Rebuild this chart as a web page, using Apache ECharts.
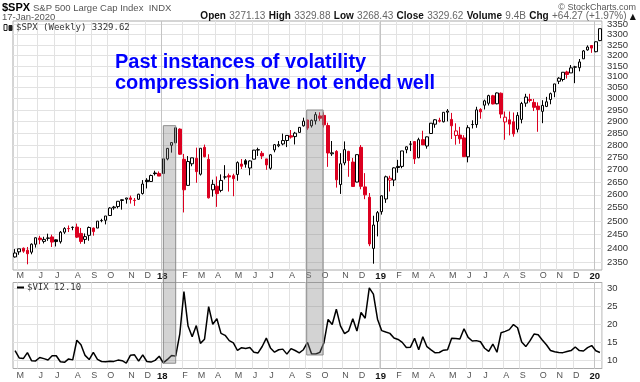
<!DOCTYPE html>
<html><head><meta charset="utf-8">
<script src="https://cdn.jsdelivr.net/npm/echarts@6/dist/echarts.min.js"></script>
<style>html,body{margin:0;padding:0;background:#fff}#c{width:640px;height:382px}</style>
</head><body><div id="c"></div>
<script>
// ---------- DATA ----------
const weeks = ['2017-04-28','2017-05-05','2017-05-12','2017-05-19','2017-05-26','2017-06-02','2017-06-09','2017-06-16','2017-06-23','2017-06-30',
'2017-07-07','2017-07-14','2017-07-21','2017-07-28','2017-08-04','2017-08-11','2017-08-18','2017-08-25','2017-09-01','2017-09-08',
'2017-09-15','2017-09-22','2017-09-29','2017-10-06','2017-10-13','2017-10-20','2017-10-27','2017-11-03','2017-11-10','2017-11-17',
'2017-11-24','2017-12-01','2017-12-08','2017-12-15','2017-12-22','2017-12-29','2018-01-05','2018-01-12','2018-01-19','2018-01-26',
'2018-02-02','2018-02-09','2018-02-16','2018-02-23','2018-03-02','2018-03-09','2018-03-16','2018-03-23','2018-03-29','2018-04-06',
'2018-04-13','2018-04-20','2018-04-27','2018-05-04','2018-05-11','2018-05-18','2018-05-25','2018-06-01','2018-06-08','2018-06-15',
'2018-06-22','2018-06-29','2018-07-06','2018-07-13','2018-07-20','2018-07-27','2018-08-03','2018-08-10','2018-08-17','2018-08-24',
'2018-08-31','2018-09-07','2018-09-14','2018-09-21','2018-09-28','2018-10-05','2018-10-12','2018-10-19','2018-10-26','2018-11-02',
'2018-11-09','2018-11-16','2018-11-23','2018-11-30','2018-12-07','2018-12-14','2018-12-21','2018-12-28','2019-01-04','2019-01-11',
'2019-01-18','2019-01-25','2019-02-01','2019-02-08','2019-02-15','2019-02-22','2019-03-01','2019-03-08','2019-03-15','2019-03-22',
'2019-03-29','2019-04-05','2019-04-12','2019-04-18','2019-04-26','2019-05-03','2019-05-10','2019-05-17','2019-05-24','2019-05-31',
'2019-06-07','2019-06-14','2019-06-21','2019-06-28','2019-07-05','2019-07-12','2019-07-19','2019-07-26','2019-08-02','2019-08-09',
'2019-08-16','2019-08-23','2019-08-30','2019-09-06','2019-09-13','2019-09-20','2019-09-27','2019-10-04','2019-10-11','2019-10-18',
'2019-10-25','2019-11-01','2019-11-08','2019-11-15','2019-11-22','2019-11-29','2019-12-06','2019-12-13','2019-12-20','2019-12-27',
'2020-01-03','2020-01-10','2020-01-17'];

const spxOpen = [2370.3,2388.5,2401.4,2394.0,2387.2,2415.6,2437.8,2425.9,2437.0,2442.0,
2431.4,2424.5,2459.5,2473.0,2477.1,2478.1,2454.9,2433.0,2447.9,2474.4,
2474.5,2502.5,2503.3,2521.2,2550.2,2555.0,2578.1,2583.2,2588.0,2577.8,
2583.0,2605.0,2657.2,2652.2,2685.9,2684.2,2683.7,2742.7,2799.0,2809.2,
2867.2,2741.1,2636.8,2723.0,2745.2,2681.1,2790.5,2741.4,2619.4,2633.5,
2617.2,2670.0,2675.0,2675.0,2680.0,2722.0,2735.4,2706.0,2741.7,2780.5,
2765.8,2742.9,2704.9,2779.8,2796.9,2804.6,2819.0,2838.9,2835.5,2853.2,
2881.4,2906.4,2881.4,2902.8,2924.2,2926.3,2882.5,2763.8,2773.9,2640.0,
2726.4,2773.9,2730.0,2649.9,2790.5,2630.9,2590.8,2400.6,2498.9,2535.6,
2584.0,2657.4,2657.9,2712.4,2712.4,2780.7,2804.4,2814.4,2747.6,2822.6,
2796.0,2848.6,2888.3,2900.9,2898.8,2940.6,2908.9,2840.2,2841.9,2830.0,
2751.5,2886.8,2886.8,2952.7,2971.4,2979.8,3013.3,2977.5,3024.5,2898.1,
2907.1,2898.8,2866.7,2909.0,2980.3,2996.4,2983.5,2967.1,2944.2,2965.8,
2996.5,3030.8,3079.0,3087.0,3122.0,3117.4,3143.9,3141.9,3183.6,3226.1,
3247.2,3217.6,3271.1];
const spxHigh = [2398.2,2399.3,2403.9,2405.8,2418.7,2440.2,2446.2,2442.6,2453.8,2450.4,
2433.0,2463.5,2477.6,2484.0,2480.4,2490.9,2474.9,2454.8,2480.4,2476.7,
2500.2,2508.9,2519.4,2552.5,2557.5,2575.4,2583.0,2588.4,2597.0,2587.7,
2604.2,2657.7,2665.2,2679.6,2695.0,2692.1,2743.5,2787.9,2810.3,2872.9,
2870.6,2763.4,2754.4,2747.8,2789.2,2786.6,2801.9,2761.9,2659.1,2672.1,
2680.3,2717.5,2683.6,2682.9,2732.9,2742.1,2742.2,2736.9,2779.9,2789.1,
2775.0,2743.3,2763.1,2804.5,2816.8,2848.0,2840.4,2863.4,2855.6,2876.2,
2916.5,2907.0,2908.3,2940.9,2939.9,2939.9,2894.8,2816.9,2779.0,2766.3,
2815.2,2776.0,2746.8,2760.9,2800.2,2685.4,2607.0,2520.3,2538.1,2597.8,
2675.5,2675.0,2709.0,2739.0,2775.7,2794.2,2816.9,2816.9,2830.7,2860.3,
2836.0,2893.4,2910.5,2916.1,2939.9,2954.1,2937.3,2892.2,2876.9,2841.4,
2884.0,2905.1,2964.2,2958.1,2995.8,3017.8,3017.4,3028.0,3028.0,2943.3,
2943.3,2939.1,2940.4,2985.9,3022.0,3022.0,2999.2,2983.9,2993.3,3008.3,
3027.4,3067.0,3097.8,3120.5,3127.6,3154.3,3150.6,3182.7,3225.7,3248.0,
3247.2,3267.1,3329.9];
const spxLow = [2368.0,2378.0,2385.0,2344.5,2379.7,2403.6,2415.7,2418.5,2428.0,2405.7,
2407.7,2418.0,2453.0,2459.9,2466.5,2437.8,2417.4,2417.4,2428.2,2446.6,
2474.5,2496.0,2488.0,2520.4,2543.0,2548.0,2543.4,2566.2,2566.3,2557.5,
2580.0,2601.0,2624.8,2651.0,2676.0,2673.6,2682.4,2737.1,2768.6,2808.1,
2759.0,2532.7,2636.0,2713.0,2647.3,2675.8,2749.0,2585.9,2593.0,2553.8,
2610.0,2660.0,2612.7,2594.6,2655.0,2701.9,2707.4,2676.8,2741.0,2755.0,
2742.0,2698.7,2699.0,2770.0,2791.0,2799.0,2791.5,2827.0,2802.5,2853.0,
2878.0,2864.1,2874.0,2886.9,2903.0,2874.3,2710.5,2755.1,2628.2,2603.5,
2717.0,2670.8,2631.1,2649.0,2621.5,2583.2,2408.6,2346.6,2444.0,2524.6,
2569.0,2612.9,2634.0,2687.0,2705.0,2766.0,2775.0,2722.3,2745.7,2800.5,
2785.0,2848.6,2873.0,2896.0,2896.0,2900.5,2825.4,2801.4,2805.5,2750.5,
2728.8,2870.0,2873.0,2912.0,2952.2,2970.1,2975.0,2975.0,2914.1,2822.1,
2840.6,2835.0,2853.1,2891.9,2964.2,2983.7,2945.5,2855.9,2892.7,2962.8,
2975.3,3006.7,3066.1,3078.3,3091.4,3117.4,3070.3,3124.8,3183.5,3222.3,
3212.0,3214.6,3268.4];
const spxClose = [2384.2,2399.3,2390.9,2381.7,2415.8,2439.1,2431.8,2433.2,2438.3,2423.4,
2425.2,2459.3,2472.5,2472.1,2476.8,2441.3,2425.6,2443.1,2476.6,2461.4,
2500.2,2502.2,2519.4,2549.3,2553.2,2575.2,2581.1,2587.8,2582.3,2578.9,
2602.4,2642.2,2651.5,2675.8,2683.3,2673.6,2743.2,2786.2,2810.3,2872.9,
2762.1,2619.6,2732.2,2747.3,2691.3,2786.6,2752.0,2588.3,2640.9,2604.5,
2656.3,2670.1,2669.9,2663.4,2727.7,2713.0,2721.3,2734.6,2779.0,2779.4,
2754.9,2718.4,2759.8,2801.3,2801.8,2818.8,2840.4,2833.3,2850.1,2874.7,
2901.5,2871.7,2905.0,2929.7,2914.0,2885.6,2767.1,2767.8,2658.7,2723.1,
2781.0,2736.3,2632.6,2760.2,2633.1,2600.0,2416.6,2485.7,2531.9,2596.3,
2670.7,2664.8,2706.5,2707.9,2775.6,2792.7,2803.7,2743.1,2822.5,2800.7,
2834.4,2892.7,2907.4,2905.0,2939.9,2945.6,2881.4,2859.5,2826.1,2752.1,
2873.3,2887.0,2950.5,2941.8,2990.4,3013.8,2976.6,3025.9,2932.1,2918.7,
2888.7,2847.1,2926.5,2978.7,3007.4,2992.1,2961.8,2952.0,2970.3,2986.2,
3022.6,3066.9,3093.1,3120.5,3110.3,3141.0,3145.9,3168.8,3221.2,3240.0,
3234.9,3265.4,3329.6];

const vixClose = [12.6,10.57,10.40,12.04,9.81,9.75,10.70,10.38,10.02,11.18,
11.19,9.51,9.36,10.29,10.03,15.51,14.26,11.28,10.13,12.12,
10.17,9.59,9.51,9.65,9.61,9.97,9.80,9.14,11.29,11.43,
9.67,11.43,9.58,9.42,9.90,11.04,9.22,10.16,11.27,11.08,
17.31,29.06,19.46,16.49,19.59,14.64,15.80,24.87,19.97,21.49,
17.41,16.88,15.41,14.77,12.65,13.42,13.22,13.46,12.18,11.98,
13.77,16.09,13.37,12.18,12.86,13.03,11.64,13.16,12.64,11.99,
12.86,14.88,11.68,11.68,12.12,14.82,21.31,19.89,24.16,19.51,
17.36,18.14,21.52,18.07,23.23,21.63,30.11,28.34,21.38,18.19,
17.80,17.42,16.14,15.72,14.91,13.51,13.57,16.05,12.88,16.48,
13.71,12.82,12.01,12.09,12.73,12.87,16.04,15.96,15.85,18.71,
16.30,15.28,15.40,15.08,13.28,12.39,14.45,12.16,17.61,17.97,
18.47,19.87,18.98,15.00,13.74,15.32,17.22,17.04,15.58,14.25,
12.65,12.30,12.07,12.05,12.34,12.62,13.62,12.63,12.51,13.43,
14.02,12.56,12.10];

const priceTicks = [2350,2400,2450,2500,2550,2600,2650,2700,2750,2800,2850,2900,2950,3000,3050,3100,3150,3200,3250,3300,3350];
const vixTicks = [10,15,20,25,30];
const monthLetters = ['J','F','M','A','M','J','J','A','S','O','N','D'];
// shaded "volatility compression" zones: [from week position, to week position, top price, bottom VIX]
const zones = [[36.0, 39.0, 2882, 9.1], [70.8, 74.8, 2950, 11.4]];

// ---------- CHART ----------
const RED = '#dc0020', BLACK = '#000000';
const labelAt = {};
let prevM = null;
weeks.forEach((w, i) => {
  const d = new Date(w + 'T00:00:00Z');
  const mon = new Date(d.getTime() - ((d.getUTCDay() + 6) % 7) * 86400000);
  const m = mon.getUTCMonth();
  if (prevM !== null && m !== prevM) {
    labelAt[i] = m === 0 ? String(mon.getUTCFullYear()).slice(2) : monthLetters[m];
  }
  prevM = m;
});
const isLab = (i) => labelAt[i] !== undefined;

// StockCharts style: colour by change vs previous close, filled when close < open
const candles = weeks.map((w, i) => {
  const c = (i === 0 || spxClose[i] >= spxClose[i - 1]) ? BLACK : RED;
  const fill = spxClose[i] < spxOpen[i] ? c : '#ffffff';
  return {
    value: [spxOpen[i], spxClose[i], spxLow[i], spxHigh[i]],
    itemStyle: { color: fill, color0: fill, borderColor: c, borderColor0: c, borderWidth: 1 }
  };
});

function makeX(gi, margin) {
  return {
    type: 'category', gridIndex: gi, data: weeks, boundaryGap: true,
    axisLine: { show: false }, axisTick: { show: false },
    axisLabel: {
      interval: (i) => isLab(i), margin: margin, fontFamily: 'Liberation Sans', fontSize: 9, color: '#555',
      formatter: (v, i) => { const t = labelAt[i] || ''; return t.length === 2 ? '{y|' + t + '}' : '{m|' + t + '}'; },
      rich: {
        y: { fontWeight: 'bold', color: '#111', fontSize: 9.5, fontFamily: 'Liberation Sans', padding: [0, 2, 0, 0] },
        m: { color: '#555', fontSize: 9, fontFamily: 'Liberation Sans', padding: [0, 0, 0, 2] }
      }
    },
    splitLine: { show: true, interval: (i) => isLab(i), lineStyle: { color: '#e2e2e2', width: 1 } }
  };
}

const chart = echarts.init(document.getElementById('c'), null, { renderer: 'canvas' });
const option = {
  animation: false,
  backgroundColor: '#ffffff',
  grid: [
    { left: 13, top: 21, width: 589, height: 249, show: true, borderColor: '#aaaaaa', borderWidth: 1, backgroundColor: 'transparent' },
    { left: 13, top: 282.5, width: 589, height: 86, show: true, borderColor: '#aaaaaa', borderWidth: 1, backgroundColor: 'transparent' }
  ],
  xAxis: [makeX(0, 1.5), makeX(1, 3)],
  yAxis: [
    {
      type: 'log', gridIndex: 0, position: 'right', min: 2324.7, max: 3368, logBase: 10,
      axisLine: { show: false }, axisTick: { show: false, customValues: priceTicks },
      axisLabel: { customValues: priceTicks, fontFamily: 'Liberation Sans', fontSize: 9.5, color: '#333', margin: 5, formatter: (v) => String(Math.round(v)) },
      splitLine: { show: true, lineStyle: { color: '#e2e2e2', width: 1 } }
    },
    {
      type: 'value', gridIndex: 1, position: 'right', min: 7.63, max: 31.6,
      axisLine: { show: false }, axisTick: { show: false, customValues: vixTicks },
      axisLabel: { customValues: vixTicks, fontFamily: 'Liberation Sans', fontSize: 9.5, color: '#333', margin: 5 },
      splitLine: { show: true, lineStyle: { color: '#e2e2e2', width: 1 } }
    }
  ],
  series: [
    { type: 'candlestick', xAxisIndex: 0, yAxisIndex: 0, barWidth: 3, data: candles, clip: true },
    { type: 'line', xAxisIndex: 1, yAxisIndex: 1, data: vixClose, showSymbol: false, symbol: 'none',
      lineStyle: { color: '#000', width: 1.5 }, z: 3 }
  ],
  graphic: []
};
chart.setOption(option);

// overlays positioned through the chart's own axes
const px0 = chart.convertToPixel({ xAxisIndex: 0 }, weeks[0]);
const px1 = chart.convertToPixel({ xAxisIndex: 0 }, weeks[1]);
const bw = px1 - px0;
const g = [];
// darker year separators
const gTop = chart.convertToPixel({ yAxisIndex: 0 }, 3368), gBot = chart.convertToPixel({ yAxisIndex: 0 }, 2324.7);
const vTop = chart.convertToPixel({ yAxisIndex: 1 }, 31.6), vBot = chart.convertToPixel({ yAxisIndex: 1 }, 7.63);
Object.keys(labelAt).forEach(k => {
  if (labelAt[k].length === 2) {
    const x = Math.round(chart.convertToPixel({ xAxisIndex: 0 }, weeks[+k]) - bw / 2) + 0.5;
    g.push({ type: 'line', z: 1, shape: { x1: x, y1: gTop, x2: x, y2: gBot }, style: { stroke: '#c4c4c4', lineWidth: 1 } });
    g.push({ type: 'line', z: 1, shape: { x1: x, y1: vTop, x2: x, y2: vBot }, style: { stroke: '#c4c4c4', lineWidth: 1 } });
  }
});
zones.forEach(z => {
  const x0 = px0 + z[0] * bw, x1 = px0 + z[1] * bw;
  const y0 = chart.convertToPixel({ yAxisIndex: 0 }, z[2]);
  const y1 = chart.convertToPixel({ yAxisIndex: 1 }, z[3]);
  g.push({ type: 'rect', z: 100, shape: { x: x0, y: y0, width: x1 - x0, height: y1 - y0 },
    style: { fill: 'rgba(120,120,120,0.33)', stroke: '#8c8c8c', lineWidth: 1 } });
});
const T = (x, y, text, font, fill, align) => ({ type: 'text', z: 110, x: x, y: y,
  style: { text: text, font: font, fill: fill, align: align || 'left', verticalAlign: 'middle' } });
g.push(T(115, 62.6, 'Past instances of volatility', 'bold 20px "Liberation Sans"', '#0000ff'));
g.push(T(115, 83.7, 'compression have not ended well', 'bold 20px "Liberation Sans"', '#0000ff'));
// header
g.push(T(2, 7.5, '$SPX', 'bold 11px "Liberation Sans"', '#000'));
g.push(T(33, 8, 'S&P 500 Large Cap Index  INDX', '9.5px "Liberation Sans"', '#555'));
g.push(T(2, 17, '17-Jan-2020', '9.5px "Liberation Sans"', '#555'));
g.push(T(636, 7.5, '© StockCharts.com', '9px "Liberation Sans"', '#555', 'right'));
g.push({ type: 'text', z: 110, x: 636, y: 16.5, style: {
  text: '{b|Open} {v|3271.13} {b|High} {v|3329.88} {b|Low} {v|3268.43} {b|Close} {v|3329.62} {b|Volume} {v|9.4B} {b|Chg} {v|+64.27 (+1.97%)} {a|▲}',
  align: 'right', verticalAlign: 'middle',
  rich: {
    b: { font: 'bold 10px "Liberation Sans"', fill: '#111' },
    v: { font: '10px "Liberation Sans"', fill: '#666' },
    a: { font: '8px "DejaVu Sans"', fill: '#111' }
  } } });
// panel legends
g.push({ type: 'rect', z: 110, shape: { x: 4, y: 24.5, width: 3, height: 6 }, style: { fill: '#fff', stroke: '#222', lineWidth: 1 } });
g.push({ type: 'rect', z: 110, shape: { x: 9, y: 25.5, width: 3, height: 5 }, style: { fill: '#222', stroke: '#222', lineWidth: 1 } });
g.push(T(16, 28, '$SPX (Weekly) 3329.62', '9px "DejaVu Sans Mono"', '#333'));
g.push({ type: 'line', z: 110, shape: { x1: 17, y1: 287.5, x2: 24, y2: 287.5 }, style: { stroke: '#000', lineWidth: 2 } });
g.push(T(27, 287.5, '$VIX 12.10', '9px "DejaVu Sans Mono"', '#333'));
chart.setOption({ graphic: g });
</script>
</body></html>
